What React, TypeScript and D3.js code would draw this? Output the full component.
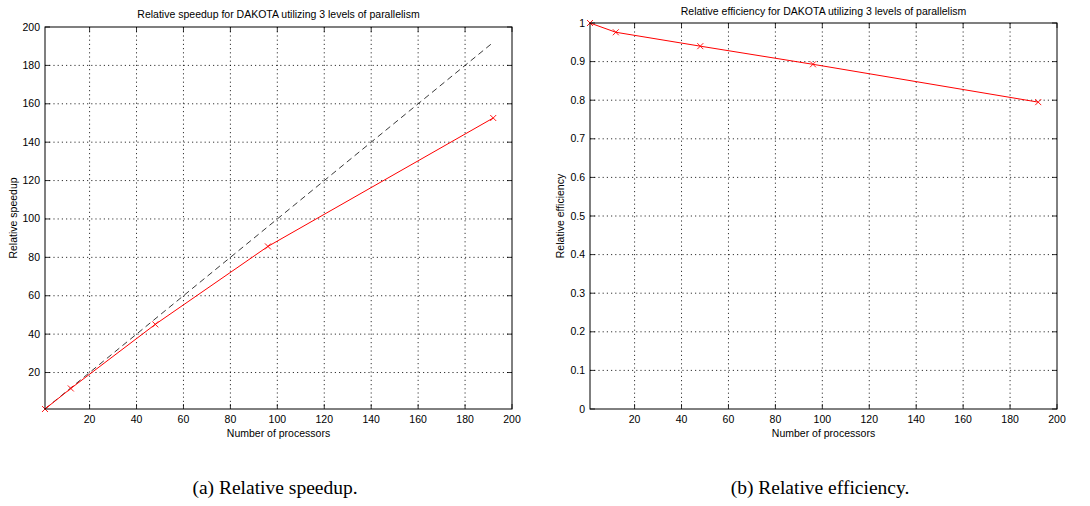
import React from "react";
import * as d3 from "d3";

const processors = [1, 12, 48, 96, 192];
const speedup = [1, 11.7, 45.1, 85.7, 152.6];
const efficiency = [1, 0.976, 0.94, 0.893, 0.795];
const idealProcessors = [1, 192];
const idealSpeedup = [1, 192];
const xTicks = [20, 40, 60, 80, 100, 120, 140, 160, 180, 200];
const speedupTicks = [20, 40, 60, 80, 100, 120, 140, 160, 180, 200];
const efficiencyTicks = [0, 0.1, 0.2, 0.3, 0.4, 0.5, 0.6, 0.7, 0.8, 0.9, 1];

const FONT = "'Liberation Sans', Arial, sans-serif";

type PanelProps = {
  left: number; right: number; top: number; bottom: number;
  yDomain: [number, number]; yTicks: number[]; yFmt: (v: number) => string;
  title: string; titleY: number; ylabel: string; ylabelX: number;
  xs: number[]; ys: number[];
  ideal?: { xs: number[]; ys: number[] };
};

function Panel(p: PanelProps) {
  const x = d3.scaleLinear().domain([1, 200]).range([p.left, p.right]);
  const y = d3.scaleLinear().domain(p.yDomain).range([p.bottom, p.top]);
  const line = d3.line<[number, number]>().x(d => x(d[0])).y(d => y(d[1]));
  const pts: [number, number][] = p.xs.map((v, i) => [v, p.ys[i]]);
  const tl = 5;
  const cx = (p.left + p.right) / 2;
  return (
    <g fontFamily={FONT} fontSize={10.5} fill="#000">
      {xTicks.filter(t => t < 200).map(t => (
        <line key={"gx" + t} x1={x(t)} x2={x(t)} y1={p.top} y2={p.bottom}
          stroke="#000" strokeWidth={0.8} strokeDasharray="1.2,3" />
      ))}
      {p.yTicks.filter(t => t > p.yDomain[0] && t < p.yDomain[1]).map(t => (
        <line key={"gy" + t} x1={p.left} x2={p.right} y1={y(t)} y2={y(t)}
          stroke="#000" strokeWidth={0.8} strokeDasharray="1.2,3" />
      ))}
      {xTicks.map(t => (
        <g key={"tx" + t}>
          <line x1={x(t)} x2={x(t)} y1={p.bottom} y2={p.bottom - tl} stroke="#000" strokeWidth={0.8} />
          <line x1={x(t)} x2={x(t)} y1={p.top} y2={p.top + tl} stroke="#000" strokeWidth={0.8} />
          <text x={x(t)} y={p.bottom + 14} textAnchor="middle">{t}</text>
        </g>
      ))}
      {p.yTicks.map(t => (
        <g key={"ty" + t}>
          <line x1={p.left} x2={p.left + tl} y1={y(t)} y2={y(t)} stroke="#000" strokeWidth={0.8} />
          <line x1={p.right} x2={p.right - tl} y1={y(t)} y2={y(t)} stroke="#000" strokeWidth={0.8} />
          <text x={p.left - 5} y={y(t) + 3.5} textAnchor="end">{p.yFmt(t)}</text>
        </g>
      ))}
      {p.ideal && (
        <path d={line(p.ideal.xs.map((v, i) => [v, p.ideal!.ys[i]] as [number, number])) || ""}
          fill="none" stroke="#222" strokeWidth={0.9} strokeDasharray="6,4" />
      )}
      <path d={line(pts) || ""} fill="none" stroke="#ff0000" strokeWidth={1} />
      {pts.map((d, i) => (
        <path key={"m" + i}
          d={`M${x(d[0]) - 3},${y(d[1]) - 3}L${x(d[0]) + 3},${y(d[1]) + 3}M${x(d[0]) - 3},${y(d[1]) + 3}L${x(d[0]) + 3},${y(d[1]) - 3}`}
          stroke="#ff0000" strokeWidth={0.9} fill="none" />
      ))}
      <rect x={p.left} y={p.top} width={p.right - p.left} height={p.bottom - p.top}
        fill="none" stroke="#000" strokeWidth={1} />
      <text x={cx} y={p.titleY} textAnchor="middle">{p.title}</text>
      <text x={cx} y={p.bottom + 28} textAnchor="middle">Number of processors</text>
      <text transform={`translate(${p.ylabelX},${(p.top + p.bottom) / 2}) rotate(-90)`} textAnchor="middle">{p.ylabel}</text>
    </g>
  );
}

export default function App() {
  return (
    <svg width={1090} height={506} style={{ position: "absolute", left: 0, top: 0, background: "#fff" }}>
      <rect width={1090} height={506} fill="#fff" />
      <Panel left={45} right={512} top={27} bottom={409}
        yDomain={[1, 200]} yTicks={speedupTicks} yFmt={v => String(v)}
        title="Relative speedup for DAKOTA utilizing 3 levels of parallelism" titleY={17.5}
        ylabel="Relative speedup" ylabelX={17} xs={processors} ys={speedup}
        ideal={{ xs: idealProcessors, ys: idealSpeedup }} />
      <Panel left={590} right={1057} top={23} bottom={409}
        yDomain={[0, 1]} yTicks={efficiencyTicks} yFmt={v => d3.format("~g")(v)}
        title="Relative efficiency for DAKOTA utilizing 3 levels of parallelism" titleY={14.5}
        ylabel="Relative efficiency" ylabelX={564} xs={processors} ys={efficiency} />
      <text x={275} y={494} textAnchor="middle" fontFamily="'Liberation Serif', 'Times New Roman', serif" fontSize={19.5}>(a) Relative speedup.</text>
      <text x={820} y={494} textAnchor="middle" fontFamily="'Liberation Serif', 'Times New Roman', serif" fontSize={19.5}>(b) Relative efficiency.</text>
    </svg>
  );
}
